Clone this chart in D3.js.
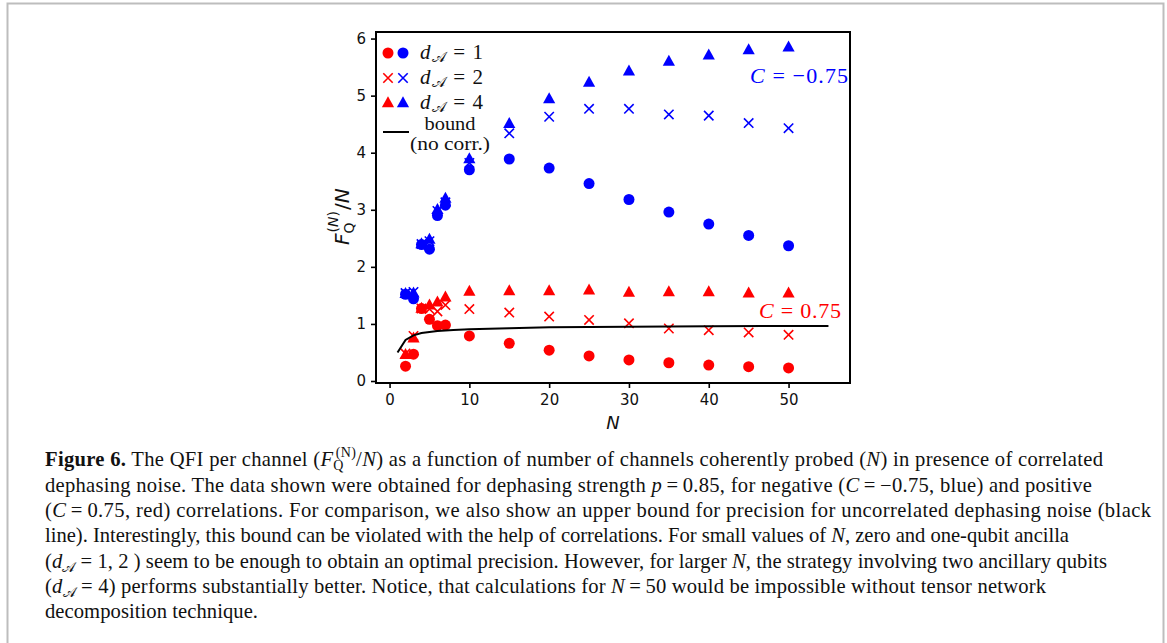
<!DOCTYPE html>
<html>
<head>
<meta charset="utf-8">
<script src="https://d3js.org/d3.v7.min.js"></script>
<style>
  body { margin: 0; background: #fff; }
</style>
</head>
<body>
<div id="fig"></div>
<script>
// values
var nVals = [2, 3, 4, 5, 6, 7, 10, 15, 20, 25, 30, 35, 40, 45, 50];

var blueD1 = [1.52, 1.44, 2.39, 2.31, 2.90, 3.08, 3.70, 3.89, 3.73, 3.46, 3.18, 2.96, 2.75, 2.55, 2.37];
var blueD2 = [1.54, 1.56, 2.40, 2.45, 2.98, 3.13, 3.82, 4.34, 4.63, 4.77, 4.77, 4.67, 4.65, 4.52, 4.43];
var blueD4 = [1.53, 1.54, 2.40, 2.48, 3.00, 3.20, 3.89, 4.51, 4.94, 5.23, 5.43, 5.60, 5.71, 5.80, 5.85];

var redD1 = [0.26, 0.47, 1.27, 1.08, 0.97, 0.98, 0.79, 0.66, 0.54, 0.44, 0.37, 0.32, 0.28, 0.25, 0.23];
var redD2 = [0.48, 0.79, 1.27, 1.26, 1.22, 1.33, 1.26, 1.20, 1.13, 1.07, 1.01, 0.92, 0.89, 0.85, 0.81];
var redD4 = [0.46, 0.75, 1.27, 1.33, 1.38, 1.47, 1.57, 1.58, 1.58, 1.59, 1.55, 1.56, 1.56, 1.54, 1.54];

var boundN = [1, 2, 3, 4, 5, 6, 7, 8, 10, 15, 20, 30, 40, 55];
var boundV = [0.50, 0.72, 0.80, 0.84, 0.86, 0.875, 0.885, 0.895, 0.905, 0.925, 0.94, 0.95, 0.96, 0.965];

var xTicks = [0, 10, 20, 30, 40, 50];
var yTicks = [0, 1, 2, 3, 4, 5, 6];

var legendLabels = ["1", "2", "4"];

var red = "#ff0000", blue = "#0000ff";
var sans = "DejaVu Sans", serif = "Liberation Serif";

var svg = d3.select("#fig").append("svg")
  .attr("width", 1167)
  .attr("height", 643);

// page frame
svg.append("rect")
  .attr("x", 7.5).attr("y", 3.5)
  .attr("width", 1156).attr("height", 700)
  .attr("fill", "none")
  .attr("stroke", "#bdbdbd")
  .attr("stroke-width", 2);

var plot = {left: 376, right: 850, top: 32, bottom: 383};

var x = d3.scaleLinear()
  .domain([-1.7, 57.7])
  .range([plot.left, plot.right]);

var y = d3.scaleLinear()
  .domain([-0.035, 6.115])
  .range([plot.bottom, plot.top]);

var line = d3.line()
  .x(function(d, i) { return x(boundN[i]); })
  .y(function(d) { return y(d); });

function addMarker(sel, color, shape) {
  if (shape == "circle") {
    sel.append("circle").attr("r", 5.5).attr("fill", color);
  } else if (shape == "tri") {
    sel.append("path").attr("d", "M0,-6.7L6.1,4.3L-6.1,4.3Z").attr("fill", color);
  } else {
    sel.append("path").attr("d", "M-4.7,-4.7L4.7,4.7M-4.7,4.7L4.7,-4.7")
      .attr("stroke", color).attr("stroke-width", 1.6).attr("fill", "none");
  }
}

function drawSeries(vals, color, shape) {
  var pts = svg.append("g").selectAll("g")
    .data(vals)
    .enter().append("g")
      .attr("transform", function(d, i) { return "translate(" + x(nVals[i]) + "," + y(d) + ")"; });
  addMarker(pts, color, shape);
}

drawSeries(redD1, red, "circle");
drawSeries(blueD1, blue, "circle");
drawSeries(redD2, red, "x");
drawSeries(blueD2, blue, "x");
drawSeries(redD4, red, "tri");
drawSeries(blueD4, blue, "tri");

svg.append("path")
  .datum(boundV)
  .attr("d", line)
  .attr("fill", "none")
  .attr("stroke", "#000")
  .attr("stroke-width", 2);

// axes
var xAxis = svg.append("g")
  .attr("transform", "translate(0," + plot.bottom + ")")
  .call(d3.axisBottom(x).tickValues(xTicks).tickFormat(d3.format("d")).tickSize(5).tickPadding(6).tickSizeOuter(0));

var yAxis = svg.append("g")
  .attr("transform", "translate(" + plot.left + ",0)")
  .call(d3.axisLeft(y).tickValues(yTicks).tickFormat(d3.format("d")).tickSize(5).tickPadding(5).tickSizeOuter(0));

[xAxis, yAxis].forEach(function(a) {
  a.attr("font-family", sans).attr("font-size", 15);
  a.select(".domain").remove();
  a.selectAll(".tick line").attr("stroke", "#000").attr("stroke-width", 1.6);
  a.selectAll(".tick text").attr("fill", "#111");
});

svg.append("rect")
  .attr("x", plot.left).attr("y", plot.top)
  .attr("width", plot.right - plot.left)
  .attr("height", plot.bottom - plot.top)
  .attr("fill", "none")
  .attr("stroke", "#000")
  .attr("stroke-width", 2);

// axis labels
svg.append("text")
  .attr("x", (plot.left + plot.right) / 2)
  .attr("y", 429)
  .attr("text-anchor", "middle")
  .attr("font-family", sans)
  .attr("font-size", 18)
  .attr("font-style", "italic")
  .attr("fill", "#111")
  .text("N");

var yl = svg.append("g")
  .attr("transform", "translate(349,198) rotate(-90)");
var ylt = yl.append("text")
  .attr("x", -47)
  .attr("y", 0)
  .attr("font-family", sans)
  .attr("font-size", 20)
  .attr("fill", "#111");
ylt.append("tspan").attr("font-style", "italic").text("F");
ylt.append("tspan").attr("font-size", 14).attr("dy", 5).text("Q");
ylt.append("tspan").attr("font-size", 14).attr("dy", -16).attr("dx", -10).text("(");
ylt.append("tspan").attr("font-size", 14).attr("font-style", "italic").text("N");
ylt.append("tspan").attr("font-size", 14).text(")");
ylt.append("tspan").attr("dy", 11).attr("dx", 1).text("/");
ylt.append("tspan").attr("font-style", "italic").text("N");

// legend
var leg = svg.append("g");
var rowY = [53, 78, 103];
var shapes = ["circle", "x", "tri"];
rowY.forEach(function(ry, i) {
  addMarker(leg.append("g").attr("transform", "translate(388," + ry + ")"), red, shapes[i]);
  addMarker(leg.append("g").attr("transform", "translate(403," + ry + ")"), blue, shapes[i]);
  var t = leg.append("text")
    .attr("x", 420).attr("y", ry + 6)
    .attr("font-family", serif)
    .attr("font-size", 21)
    .attr("fill", "#111")
    .attr("textLength", 63)
    .attr("lengthAdjust", "spacing");
  t.append("tspan").attr("font-style", "italic").text("d");
  t.append("tspan").attr("font-size", 15).attr("dy", 3).text("\uD835\uDC9C");
  t.append("tspan").attr("dy", -3).text(" = " + legendLabels[i]);
});
leg.append("line")
  .attr("x1", 383).attr("x2", 409)
  .attr("y1", 132).attr("y2", 132)
  .attr("stroke", "#000").attr("stroke-width", 2);
leg.append("text")
  .attr("x", 450).attr("y", 130)
  .attr("text-anchor", "middle")
  .attr("font-family", serif).attr("font-size", 18).attr("fill", "#111")
  .attr("textLength", 51).attr("lengthAdjust", "spacingAndGlyphs")
  .text("bound");
leg.append("text")
  .attr("x", 450).attr("y", 150)
  .attr("text-anchor", "middle")
  .attr("font-family", serif).attr("font-size", 18).attr("fill", "#111")
  .attr("textLength", 80).attr("lengthAdjust", "spacingAndGlyphs")
  .text("(no corr.)");

// annotations
function cLabel(xp, yp, txt, color, w) {
  var t = svg.append("text")
    .attr("x", xp).attr("y", yp)
    .attr("text-anchor", "end")
    .attr("font-family", serif)
    .attr("font-size", 22)
    .attr("fill", color)
    .attr("textLength", w)
    .attr("lengthAdjust", "spacing");
  t.append("tspan").attr("font-style", "italic").text("C");
  t.append("tspan").text(" = " + txt);
}
cLabel(848, 83, "\u22120.75", blue, 98);
cLabel(841, 318, "0.75", red, 82);

// caption
var captionLines = [
  [["Figure 6.", "b"], [" The QFI per channel (", ""], ["F", "i"], ["Q", "sub"], ["(N)", "supx"], ["/", "back"], ["N", "i"], [") as a function of number of channels coherently probed (", ""], ["N", "i"], [") in presence of correlated", ""]],
  [["dephasing noise. The data shown were obtained for dephasing strength ", ""], ["p", "i"], ["\u2009=\u20090.85, for negative (", ""], ["C", "i"], ["\u2009=\u2009\u22120.75, blue) and positive", ""]],
  [["(", ""], ["C", "i"], ["\u2009=\u20090.75, red) correlations. For comparison, we also show an upper bound for precision for uncorrelated dephasing noise (black", ""]],
  [["line). Interestingly, this bound can be violated with the help of correlations. For small values of ", ""], ["N", "i"], [", zero and one-qubit ancilla", ""]],
  [["(", ""], ["d", "i"], ["\uD835\uDC9C", "sub"], [" = 1, 2 ", "back"], [") seem to be enough to obtain an optimal precision. However, for larger ", ""], ["N", "i"], [", the strategy involving two ancillary qubits", ""]],
  [["(", ""], ["d", "i"], ["\uD835\uDC9C", "sub"], [" = 4", "back"], [") performs substantially better. Notice, that calculations for ", ""], ["N", "i"], ["\u2009=\u200950 would be impossible without tensor network", ""]],
  [["decomposition technique.", ""]]
];
var lineEnds = [1103, 1092, 1151, 1069, 1107, 1046, 258];
var capX = 45;
captionLines.forEach(function(segs, li) {
  var t = svg.append("text")
    .attr("x", capX)
    .attr("y", li == 0 ? 466 : 492 + (li - 1) * 25.2)
    .attr("font-family", serif)
    .attr("font-size", 20.6)
    .attr("fill", "#111")
    .attr("textLength", lineEnds[li] - capX)
    .attr("lengthAdjust", "spacing");
  segs.forEach(function(s) {
    var ts = t.append("tspan").text(s[0]);
    if (s[1] == "b") ts.attr("font-weight", "bold");
    if (s[1] == "i") ts.attr("font-style", "italic");
    if (s[1] == "sub") ts.attr("font-size", 14).attr("dy", 4);
    if (s[1] == "supx") { ts.attr("font-size", 14).attr("dy", -13).attr("dx", -8); }
    if (s[1] == "back") ts.attr("dy", s[0] == "/" ? 9 : -4);
  });
});
</script>
</body>
</html>
